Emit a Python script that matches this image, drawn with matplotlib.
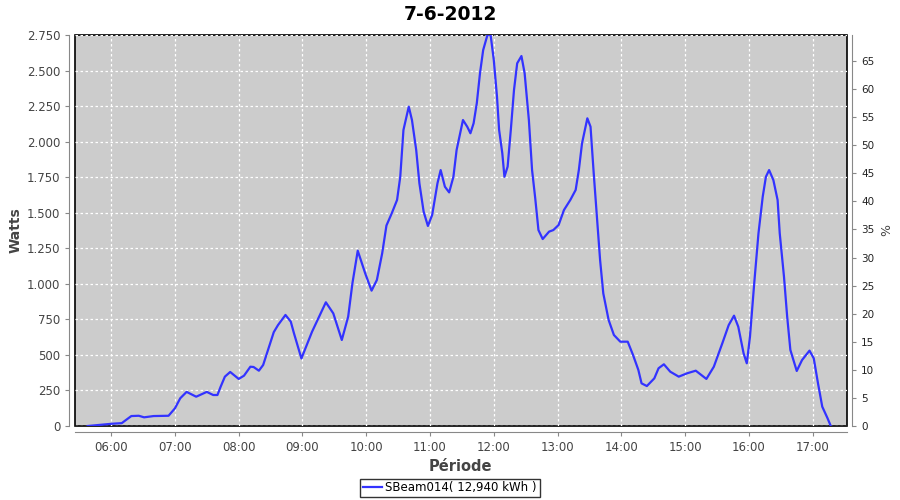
import matplotlib
matplotlib.use("Agg")
import matplotlib.pyplot as plt
import matplotlib.dates as mdates
from matplotlib.ticker import FuncFormatter, MultipleLocator
import pandas as pd

# data (time of day, watts)
times = ["05:38", "05:51", "06:01", "06:10", "06:13", "06:19", "06:26", "06:31", "06:40", "06:54",
         "07:00", "07:05", "07:11", "07:20", "07:30", "07:36", "07:40", "07:43", "07:47", "07:52",
         "08:00", "08:05", "08:11", "08:14", "08:19", "08:23", "08:33", "08:37", "08:44", "08:49",
         "08:52", "08:59", "09:09", "09:22", "09:29", "09:37", "09:43", "09:47", "09:52", "09:59",
         "10:05", "10:10", "10:15", "10:19", "10:24", "10:29", "10:32", "10:35", "10:40", "10:43",
         "10:47", "10:50", "10:54", "10:58", "11:02", "11:07", "11:10", "11:14", "11:18", "11:22",
         "11:25", "11:31", "11:35", "11:38", "11:41", "11:44", "11:47", "11:50", "11:54", "11:57",
         "12:00", "12:03", "12:05", "12:08", "12:10", "12:13", "12:16", "12:19", "12:22", "12:26",
         "12:29", "12:33", "12:36", "12:39", "12:42", "12:46", "12:52", "12:56", "13:01", "13:06",
         "13:12", "13:17", "13:20", "13:23", "13:28", "13:31", "13:34", "13:37", "13:40", "13:43",
         "13:48", "13:53", "13:59", "14:06", "14:11", "14:16", "14:19", "14:24", "14:31", "14:35",
         "14:40", "14:46", "14:54", "15:02", "15:10", "15:20", "15:27", "15:35", "15:41", "15:46",
         "15:50", "15:55", "15:58", "16:01", "16:05", "16:09", "16:13", "16:16", "16:19", "16:23",
         "16:27", "16:29", "16:33", "16:36", "16:39", "16:45", "16:50", "16:57", "17:01", "17:05",
         "17:09", "17:14", "17:17"]
watts = [0, 9, 16, 20, 37, 70, 72, 61, 70, 72,
         124, 195, 240, 206, 240, 218, 218, 276, 347, 380,
         331, 354, 417, 415, 389, 429, 660, 710, 781, 734,
         652, 475, 663, 870, 792, 605, 769, 1004, 1233, 1074,
         952, 1027, 1215, 1410, 1496, 1590, 1753, 2082, 2246, 2152,
         1941, 1707, 1507, 1407, 1484, 1707, 1800, 1683, 1643, 1753,
         1941, 2152, 2105, 2059, 2129, 2270, 2481, 2644, 2750, 2750,
         2574, 2316, 2082, 1918, 1753, 1824, 2082, 2363, 2551, 2602,
         2481, 2152, 1800, 1600, 1378, 1315, 1367, 1378, 1414, 1519,
         1590, 1660, 1800, 1988, 2164, 2105, 1777, 1472, 1167, 933,
         746, 640, 593, 593, 499, 394, 300, 281, 335, 406,
         434, 382, 347, 371, 389, 331, 417, 582, 710, 776,
         698, 511, 441, 628, 1004, 1355, 1613, 1753, 1800, 1730,
         1589, 1355, 1050, 769, 535, 387, 464, 530, 476, 300,
         136, 54, 0]

day = "2012-06-07"
title = "7-6-2012"
series_name = "SBeam014( 12,940 kWh )"
peak_power = 3950  # watts for 100 %

x = pd.to_datetime([f"{day} {t}" for t in times])

fig = plt.figure(figsize=(9, 5), dpi=100)
ax = fig.add_axes([75 / 900, 1 - 426 / 500, (846.7 - 75) / 900, 391 / 500])

ax.plot(x, watts, color="#3333ff", lw=1.6, label=series_name)

ax.set_facecolor("#cccccc")
ax.grid(True, color="white", ls=(0, (2, 2)), lw=0.9)
ax.set_axisbelow(True)

ax.set_xlim(pd.Timestamp(f"{day} 05:26"), pd.Timestamp(f"{day} 17:32"))
ax.set_ylim(0, 2750)
ax.xaxis.set_major_locator(mdates.HourLocator())
ax.xaxis.set_major_formatter(mdates.DateFormatter("%H:%M"))
ax.yaxis.set_major_locator(MultipleLocator(250))
ax.yaxis.set_major_formatter(FuncFormatter(lambda v, p: f"{int(v):,}".replace(",", ".")))

# black frame round the plot, grey offset axis lines
for s in ax.spines.values():
    s.set_visible(False)
ax.patch.set_edgecolor("black")
ax.patch.set_linewidth(1.2)
for side in ["left", "bottom"]:
    ax.spines[side].set_visible(True)
    ax.spines[side].set_position(("outward", 4))
    ax.spines[side].set_color("#888888")
ax.tick_params(colors="#888888", labelcolor="#444444", labelsize=8.5, length=3, width=0.8)

ax2 = ax.twinx()
ax2.set_position(ax.get_position())
ax2.set_ylim(0, 2750 / peak_power * 100)
ax2.yaxis.set_major_locator(MultipleLocator(5))
for s in ax2.spines.values():
    s.set_visible(False)
ax2.spines["right"].set_visible(True)
ax2.spines["right"].set_position(("outward", 4))
ax2.spines["right"].set_color("#888888")
ax2.tick_params(colors="#888888", labelcolor="#222222", labelsize=7.5, length=3, width=0.8)
ax2.set_ylabel("%", fontsize=9, color="#444444", labelpad=4)

ax.set_ylabel("Watts", fontsize=10, fontweight="bold", color="#444444", labelpad=3)
ax.set_xlabel("Période", fontsize=10.5, fontweight="bold", color="#444444", labelpad=4)
fig.text(0.5, 0.972, title, ha="center", va="center", fontsize=13.5, fontweight="bold")

fig.legend(loc="center", bbox_to_anchor=(0.5, 0.024), fontsize=8.5, frameon=True,
           fancybox=False, edgecolor="black", handlelength=1.6, handletextpad=0.3,
           borderpad=0.25, borderaxespad=0)

fig.savefig("out.png", dpi=100)
